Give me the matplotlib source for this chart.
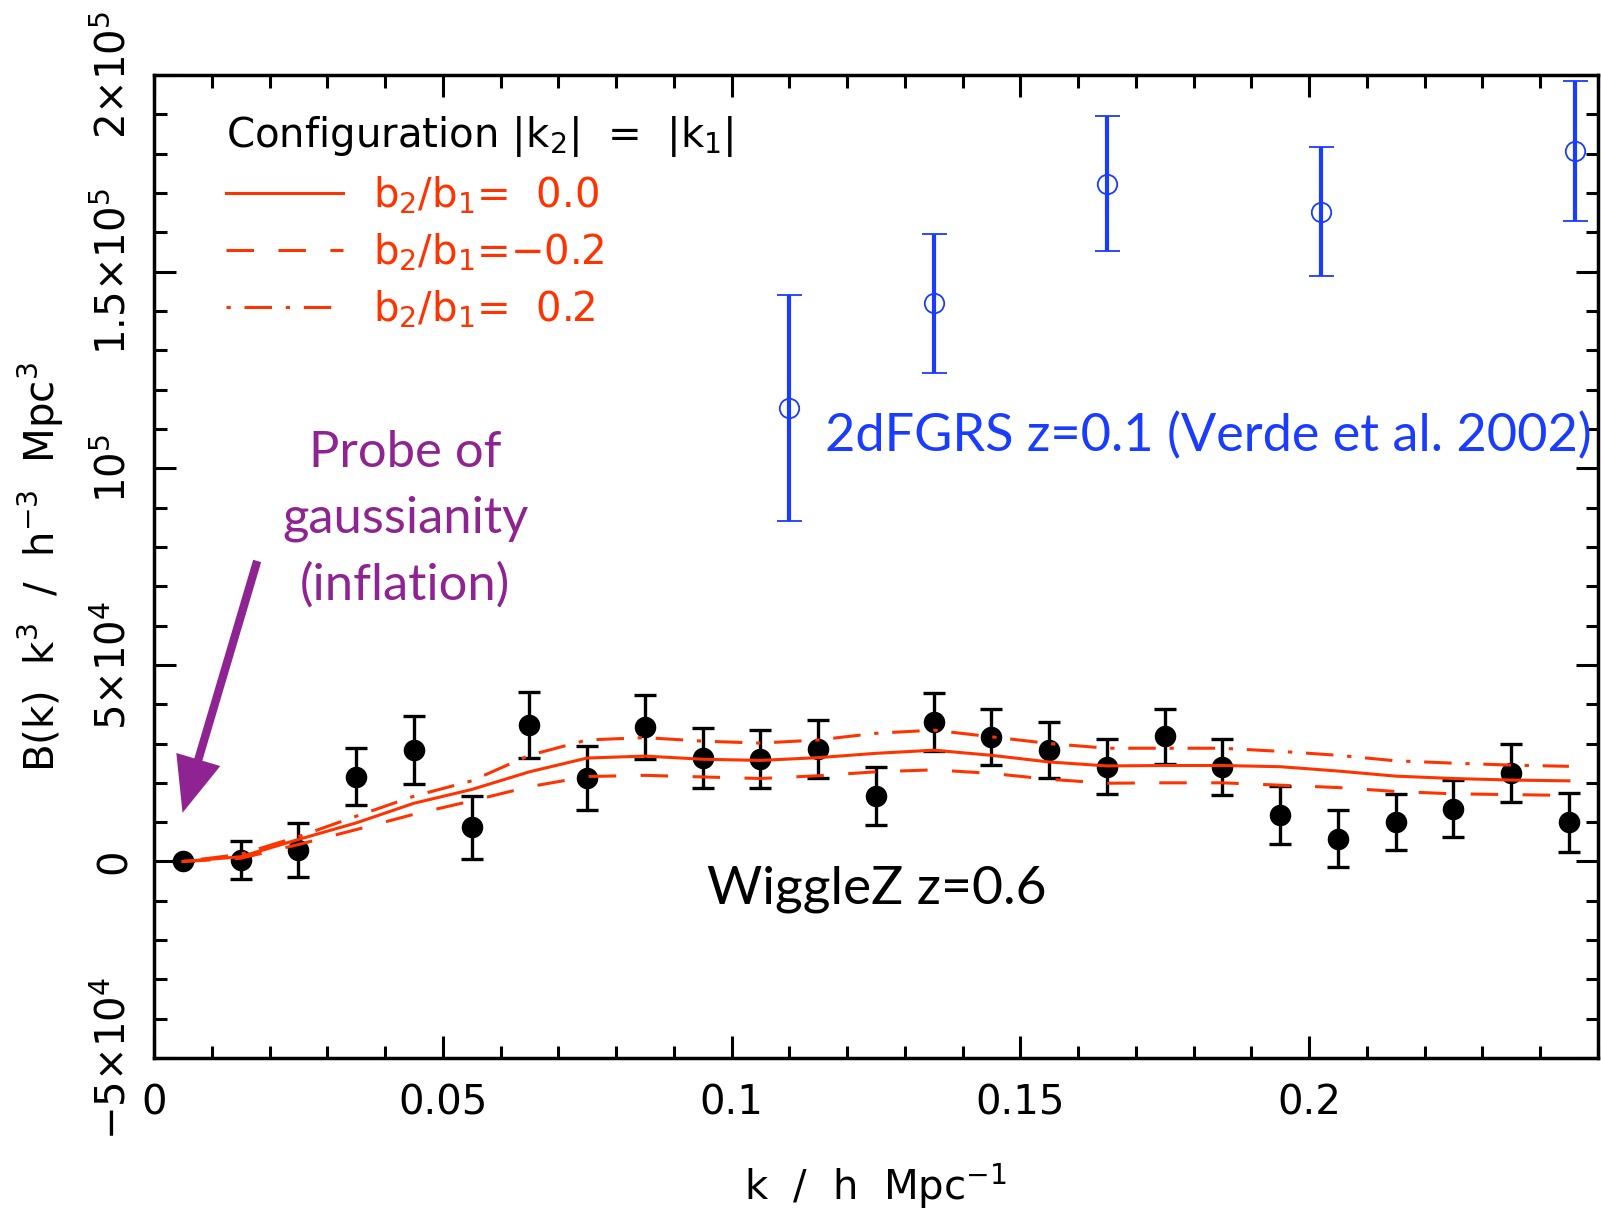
import matplotlib.pyplot as plt
from matplotlib.lines import Line2D

plt.rcParams['font.family'] = ['DejaVu Sans']
plt.rcParams['mathtext.fontset'] = 'dejavusans'

# WiggleZ z=0.6 bispectrum measurements
k_wigglez = [0.005, 0.015, 0.025, 0.035, 0.045, 0.055, 0.065, 0.075, 0.085,
             0.095, 0.105, 0.115, 0.125, 0.135, 0.145, 0.155, 0.165, 0.175,
             0.185, 0.195, 0.205, 0.215, 0.225, 0.235, 0.245]
b_wigglez = [0, 400, 3000, 21600, 28400, 8700, 34600, 21300, 34200,
             26400, 26100, 28700, 16600, 35500, 31700, 28400, 24100, 31900,
             24100, 11800, 5800, 10000, 13400, 22400, 10000]
err_wigglez = [0, 4900, 6900, 7200, 8600, 8000, 8400, 8100, 8200,
               7600, 7300, 7400, 7300, 7300, 7200, 7100, 7000, 7000,
               7100, 7300, 7300, 7200, 7300, 7400, 7500]

# model curves for |k2| = |k1|
model_b0 = [0, 1200, 5600, 9800, 14800, 18300, 22800, 26300, 26800,
            26000, 25700, 26400, 27500, 28300, 27000, 25300, 24300, 24400,
            24400, 24100, 23000, 21700, 21100, 20700, 20500]
model_bm02 = [0, 800, 4300, 8100, 12000, 15400, 19000, 21600, 21900,
              21500, 21100, 21800, 22800, 23300, 22400, 20900, 19900, 20000,
              20000, 19400, 18800, 17800, 17200, 17000, 16800]
model_bp02 = [0, 1800, 6300, 11500, 16600, 20500, 27000, 30900, 31500,
              30600, 30100, 30900, 32600, 33400, 31700, 30000, 28800, 28800,
              28800, 28000, 27000, 25600, 25000, 24500, 24200]

# 2dFGRS z=0.1 (Verde et al. 2002)
k_2df = [0.110, 0.135, 0.165, 0.202, 0.246]
b_2df = [115300, 142000, 172400, 165200, 180700]
err_2df = [28800, 17700, 17100, 16400, 17700]

x_ticks = [0, 0.05, 0.1, 0.15, 0.2]
x_ticklabels = ['0', '0.05', '0.1', '0.15', '0.2']
y_ticks = [-50000, 0, 50000, 100000, 150000, 200000]
y_ticklabels = [r'$-5{\times}10^4$', '0', r'$5{\times}10^4$', r'$10^5$',
                r'$1.5{\times}10^5$', r'$2{\times}10^5$']

red = '#ff3300'
blue = '#1a3cff'
purple = '#8e2391'
gill = ['Lato', 'DejaVu Sans']

fig = plt.figure(figsize=(16.01, 12.11), dpi=100)
ax = fig.add_axes([0.0962, 0.1263, 0.9018, 0.8117])

ax.errorbar(k_wigglez, b_wigglez, yerr=err_wigglez, fmt='o', color='black',
            ms=14.5, elinewidth=2.4, capsize=8, capthick=2.4, zorder=3)
ax.errorbar(k_2df, b_2df, yerr=err_2df, fmt='o', mfc='none', mec=blue,
            ms=14, mew=1.3, ecolor=blue, elinewidth=3, capsize=9,
            capthick=3, zorder=3, clip_on=False)

ax.plot(k_wigglez, model_b0, color=red, lw=2.2, zorder=4)
ax.plot(k_wigglez, model_bm02, color=red, lw=2.2, dashes=(9, 8), zorder=4)
ax.plot(k_wigglez, model_bp02, color=red, lw=2.2, dashes=(1.4, 4.5, 9, 4.5),
        zorder=4)

ax.set_xlim(0, 0.25)
ax.set_ylim(-50000, 200000)
ax.set_xticks(x_ticks)
ax.set_xticklabels(x_ticklabels)
ax.set_xticks([i * 0.01 for i in range(26)], minor=True)
ax.set_yticks(y_ticks)
ax.set_yticklabels(y_ticklabels, rotation=90, va='center')
ax.set_yticks([i * 10000 for i in range(-5, 21)], minor=True)
ax.tick_params(which='both', direction='in', top=True, right=True,
               width=2.2, labelsize=29)
ax.tick_params(which='major', length=16)
ax.tick_params(which='minor', length=9)
ax.tick_params(axis='x', pad=18)
ax.tick_params(axis='y', pad=14)
for s in ax.spines.values():
    s.set_linewidth(2.5)

ax.set_xlabel(r'k  /  h  Mpc$^{-1}$', fontsize=29, labelpad=28)
ax.set_ylabel(r'B(k)  k$^3$  /  h$^{-3}$  Mpc$^3$', fontsize=29, labelpad=20)

handles = [Line2D([], [], color=red, lw=2.2),
           Line2D([], [], color=red, lw=2.2, dashes=(9, 8)),
           Line2D([], [], color=red, lw=2.2, dashes=(1.4, 4.5, 9, 4.5))]
labels = [r'b$_2$/b$_1$=  0.0', r'b$_2$/b$_1$=$-$0.2',
          r'b$_2$/b$_1$=  0.2']
leg = ax.legend(handles, labels, loc='upper left',
                bbox_to_anchor=(0.05, 0.96), frameon=False, fontsize=29,
                labelcolor=red, handlelength=2.9, handletextpad=0.75,
                labelspacing=0.38, borderpad=0, borderaxespad=0,
                title=r'Configuration |k$_2$|  =  |k$_1$|',
                title_fontsize=29, alignment='left')

ax.text(0.1161, 108300, '2dFGRS z=0.1 (Verde et al. 2002)', color=blue,
        fontsize=37.6, family=gill, ha='left', va='center')
ax.text(0.0958, -7000, 'WiggleZ z=0.6', color='black', fontsize=38.4,
        family=gill, ha='left', va='center')
ax.text(0.0435, 87000, 'Probe of\ngaussianity\n(inflation)', color=purple,
        fontsize=36.5, family=gill, ha='center', va='center',
        linespacing=1.52)
ax.annotate('', xy=(0.0048, 11700), xytext=(0.018, 77100),
            arrowprops=dict(arrowstyle='simple,head_length=4,head_width=3.3,tail_width=0.6',
                            mutation_scale=10, color=purple, lw=0))

fig.savefig('out.png', dpi=100)
